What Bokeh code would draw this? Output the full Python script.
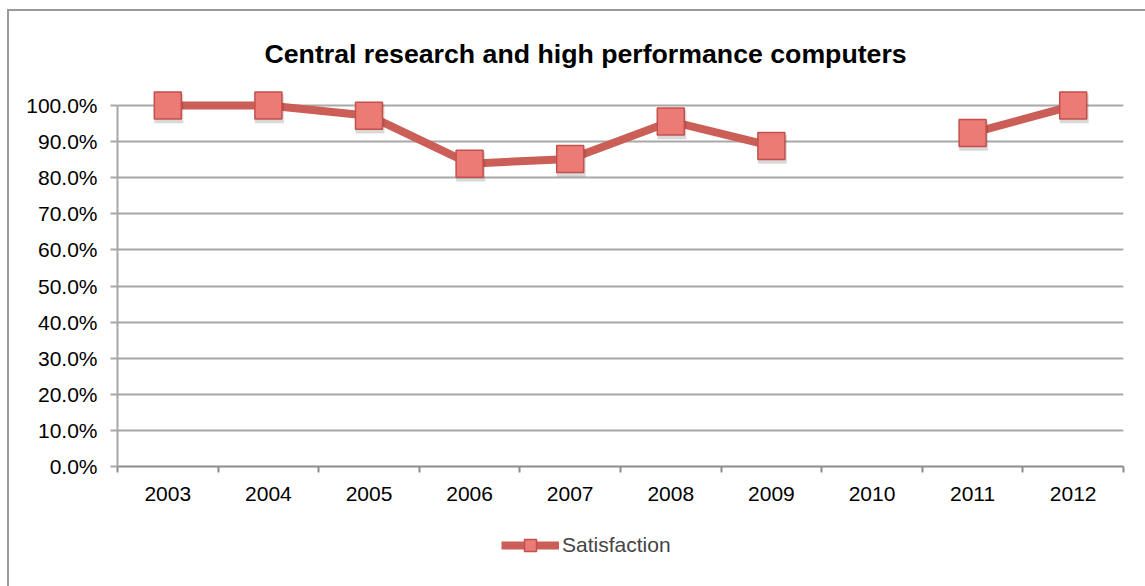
from bokeh.plotting import figure
from bokeh.layouts import column
from bokeh.models import (Range1d, FixedTicker, NumeralTickFormatter, Legend, LegendItem,
                          ColumnDataSource)
from bokeh.transform import dodge
from bokeh.embed import file_html
from bokeh.resources import INLINE

title = "Central research and high performance computers"
years = ["2003", "2004", "2005", "2006", "2007", "2008", "2009", "2010", "2011", "2012"]
satisfaction = [1.0, 1.0, 0.972, 0.839, 0.852, 0.956, 0.888, None, 0.924, 1.0]
y_ticks = [0.0, 0.1, 0.2, 0.3, 0.4, 0.5, 0.6, 0.7, 0.8, 0.9, 1.0]
series_name = "Satisfaction"

FONT = "Liberation Sans"
LINE_COLOR = "#CC5E58"
MARK_FILL = "#EC7B75"
MARK_LINE = "#C2504C"
GRID = "#A8A8A8"

xs = [i + 0.5 for i in range(len(years))]
ys = [float("nan") if v is None else v for v in satisfaction]
src = ColumnDataSource(dict(x=xs, y=ys))

# main chart (the column starts at (9, 11) because of the chart-area border drawn with CSS)
p = figure(frame_width=1006, frame_height=379, output_backend="svg", toolbar_location=None,
           x_range=Range1d(0, len(years)), y_range=Range1d(0, 1.05),
           min_border_left=108, min_border_right=22, min_border_top=76, min_border_bottom=50)
p.background_fill_color = "white"
p.border_fill_color = "white"
p.outline_line_color = None

p.title.text = title
p.title.text_font = FONT
p.title.text_font_size = "26.7px"
p.title.text_font_style = "bold"
p.title.text_color = "#000000"
p.title.align = "left"
p.title.offset = 147
p.title.standoff = 37

p.xaxis.ticker = FixedTicker(ticks=xs, minor_ticks=list(range(len(years) + 1)))
p.xaxis.major_label_overrides = {x: y for x, y in zip(xs, years)}
p.xaxis.major_tick_out = 0
p.xaxis.major_tick_in = 0
p.xaxis.minor_tick_out = 6
p.xaxis.minor_tick_in = 0
p.xaxis.minor_tick_line_color = "#8C8C8C"
p.xaxis.minor_tick_line_width = 2
p.xaxis.axis_line_color = "#8C8C8C"
p.xaxis.axis_line_width = 2
p.xaxis.major_label_standoff = 14

p.yaxis.ticker = FixedTicker(ticks=y_ticks)
p.yaxis.bounds = (0, 1)
p.yaxis.formatter = NumeralTickFormatter(format="0.0%")
p.yaxis.major_tick_out = 7
p.yaxis.major_tick_in = 0
p.yaxis.major_tick_line_color = GRID
p.yaxis.major_tick_line_width = 2
p.yaxis.minor_tick_line_color = None
p.yaxis.axis_line_color = GRID
p.yaxis.axis_line_width = 2
p.yaxis.major_label_standoff = 13

for ax in (p.xaxis, p.yaxis):
    ax.major_label_text_font = FONT
    ax.major_label_text_font_size = "21px"
    ax.major_label_text_color = "#000000"

p.xgrid.grid_line_color = None
p.ygrid.grid_line_color = GRID
p.ygrid.grid_line_width = 2

p.line("x", "y", source=src, line_color=LINE_COLOR, line_width=8, line_join="round")
p.scatter(dodge("x", 0.01, range=p.x_range), dodge("y", -0.009, range=p.y_range), source=src,
          marker="square", size=29, fill_color="black", fill_alpha=0.15, line_color=None)
p.scatter("x", "y", source=src, marker="square", size=27,
          fill_color=MARK_FILL, line_color=MARK_LINE, line_width=1.5)

# legend strip below the chart (same series drawn outside its visible range, legend only)
lg = figure(width=1136, height=70, output_backend="svg", toolbar_location=None,
            x_range=Range1d(-20, -19), y_range=Range1d(-20, -19),
            x_axis_location=None, y_axis_location=None,
            min_border_left=0, min_border_right=0, min_border_top=0, min_border_bottom=0)
lg.xgrid.grid_line_color = None
lg.ygrid.grid_line_color = None
lg.outline_line_color = None
lg.background_fill_color = "white"
lg.border_fill_color = "white"
l_line = lg.line("x", "y", source=src, line_color=LINE_COLOR, line_width=8)
l_mark = lg.scatter("x", "y", source=src, marker="square", size=27,
                    fill_color=MARK_FILL, line_color=MARK_LINE, line_width=1.5)
legend = Legend(items=[LegendItem(label=series_name, renderers=[l_line, l_mark])],
                location=(384, 26), orientation="horizontal",
                glyph_width=58, glyph_height=30,
                label_text_font=FONT, label_text_font_size="21px", label_standoff=3,
                padding=0, margin=0, border_line_color=None, background_fill_alpha=0)
lg.add_layout(legend)

layout = column(p, lg, spacing=0,
                styles={"margin-left": "7px", "margin-top": "9px",
                        "border-left": "2px solid #9A9A9A", "border-top": "2px solid #9A9A9A"})

open("out.html", "w").write(file_html(layout, INLINE))
